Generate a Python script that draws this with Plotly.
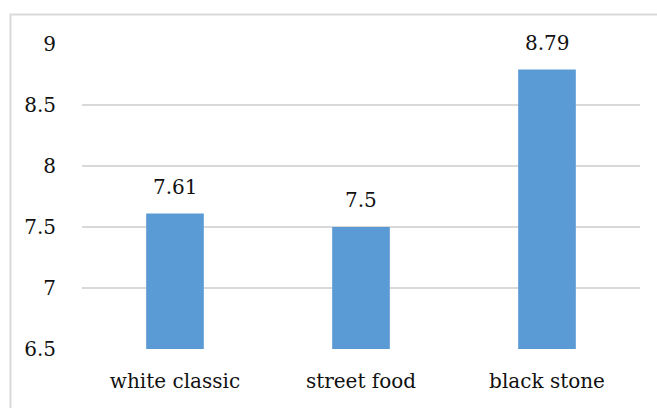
import plotly.graph_objects as go

categories = ["white classic", "street food", "black stone"]
values = [7.61, 7.5, 8.79]
y_ticks = [6.5, 7, 7.5, 8, 8.5, 9]
y_tick_labels = ["6.5", "7", "7.5", "8", "8.5", "9"]

FONT = "'DejaVu Serif', serif"
FS = 20
W, H = 657, 408
ml, mr, mt, mb = 82, 17, 44, 59

fig = go.Figure()
fig.add_trace(go.Bar(x=categories, y=values, marker=dict(color="#5B9BD5", line=dict(width=0))))

for c, v in zip(categories, values):
    fig.add_annotation(x=c, y=v, text=str(v), showarrow=False, yanchor="middle", yshift=27,
                       font=dict(family=FONT, size=FS, color="#111111"))

pw = W - ml - mr
ph = H - mt - mb
fig.add_shape(type="rect", xref="paper", yref="paper",
              x0=(10.5 - ml) / pw, x1=(W + 5 - ml) / pw,
              y0=(H - mb - (H + 5)) / ph, y1=(H - mb - 14.5) / ph,
              line=dict(color="#d9d9d9", width=2), fillcolor="rgba(0,0,0,0)", layer="below")

fig.update_layout(
    width=W, height=H,
    margin=dict(l=ml, r=mr, t=mt, b=mb),
    paper_bgcolor="white", plot_bgcolor="white",
    bargap=0.69,
    showlegend=False,
    font=dict(family=FONT, size=FS, color="#111111"),
    xaxis=dict(showgrid=False, showline=False, ticks="", tickfont=dict(family=FONT, size=FS),
               ticklabelstandoff=18),
    yaxis=dict(range=[6.5, 9], tickvals=y_ticks, ticktext=y_tick_labels,
               showgrid=True, gridcolor="#d9d9d9", gridwidth=1.5,
               zeroline=False, showline=False, ticks="", ticklabelstandoff=25,
               tickfont=dict(family=FONT, size=FS)),
)

fig.write_html("out.html")
